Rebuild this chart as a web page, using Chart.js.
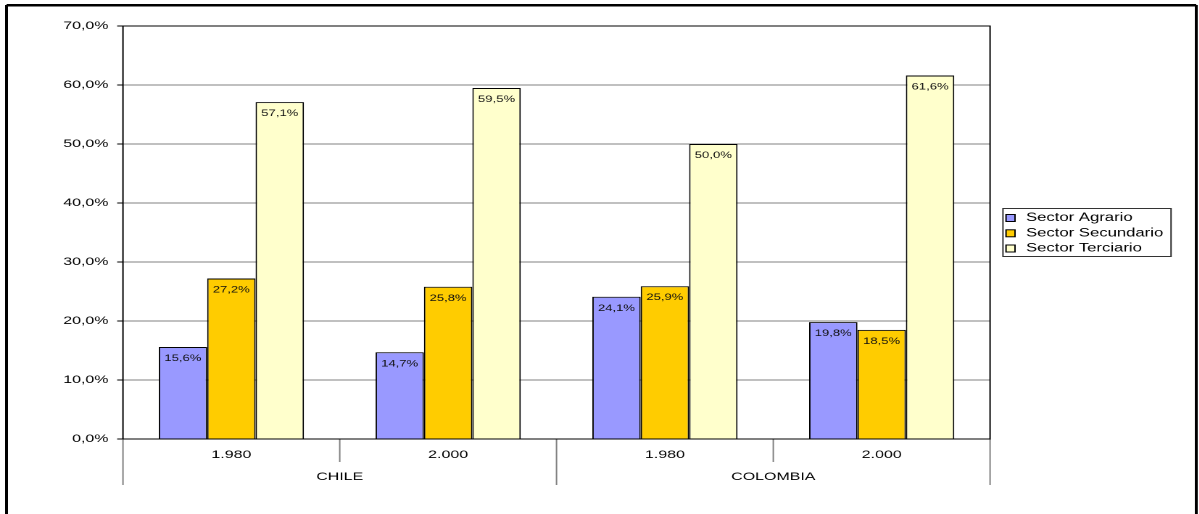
<!DOCTYPE html>
<html lang="es">
<head>
<meta charset="utf-8">
<title>Sectores económicos - Chile y Colombia</title>
<script src="https://cdn.jsdelivr.net/npm/chart.js@4"></script>
<style>
  html, body { margin: 0; padding: 0; background: #fff; overflow: hidden; }
  /* el original está estirado en horizontal, por eso el scaleX */
  #contenedor {
    width: 827px;
    height: 514px;
    transform: scaleX(1.45);
    transform-origin: 0 0;
  }
</style>
</head>
<body>
<div id="contenedor"><canvas id="grafico"></canvas></div>
<script>
// --- Datos ---
const anos = ['1.980', '2.000', '1.980', '2.000'];
const paises = ['CHILE', 'COLOMBIA'];
const sectorAgrario = [15.6, 14.7, 24.1, 19.8];
const sectorSecundario = [27.2, 25.8, 25.9, 18.5];
const sectorTerciario = [57.1, 59.5, 50.0, 61.6];
const marcasEje = [0, 10, 20, 30, 40, 50, 60, 70];

const FUENTE = '"Liberation Sans", Arial, sans-serif';

function formatoPct(v) {
    return Number(v).toFixed(1).replace('.', ',') + '%';
}

// --- Plugin: etiquetas, separadores, marcos y leyenda ---
const extras = {
    id: 'extras',
    afterDatasetsDraw(chart) {
        const ctx = chart.ctx;
        ctx.save();
        ctx.font = '9px ' + FUENTE;
        ctx.fillStyle = '#111';
        ctx.textAlign = 'center';
        ctx.textBaseline = 'middle';
        chart.data.datasets.forEach((ds, i) => {
            chart.getDatasetMeta(i).data.forEach((barra, j) => {
                ctx.fillText(formatoPct(ds.data[j]), barra.x, barra.y + 11.5);
            });
        });
        ctx.restore();
    },
    afterDraw(chart) {
        const ctx = chart.ctx;
        const area = chart.chartArea;
        const ancho = (area.right - area.left) / anos.length;
        const porPais = anos.length / paises.length;

        ctx.save();

        // separadores bajo el eje
        ctx.strokeStyle = '#808080';
        ctx.lineWidth = 1;
        for (let k = 0; k <= anos.length; k++) {
            const x = area.left + k * ancho;
            const fin = (k % porPais === 0) ? 485 : 462;
            ctx.beginPath();
            ctx.moveTo(x, area.bottom);
            ctx.lineTo(x, fin);
            ctx.stroke();
        }

        // nombres de país
        ctx.fillStyle = '#000';
        ctx.font = '11px ' + FUENTE;
        ctx.textAlign = 'center';
        ctx.textBaseline = 'middle';
        paises.forEach((p, i) => {
            const x = area.left + (i + 0.5) * porPais * ancho;
            ctx.fillText(p, x, 477);
        });

        // marco del área de trazado
        ctx.strokeStyle = '#000';
        ctx.lineWidth = 1;
        ctx.strokeRect(area.left, area.top, area.right - area.left, area.bottom - area.top);

        // marco exterior
        ctx.lineWidth = 2.5;
        ctx.beginPath();
        ctx.moveTo(4.5, 5.3);
        ctx.lineTo(825, 5.3);
        ctx.stroke();
        ctx.lineWidth = 2;
        ctx.beginPath();
        ctx.moveTo(4.5, 5);
        ctx.lineTo(4.5, 520);
        ctx.moveTo(825, 5);
        ctx.lineTo(825, 520);
        ctx.stroke();

        // leyenda
        ctx.lineWidth = 1;
        ctx.strokeStyle = '#333';
        ctx.strokeRect(691.7, 208.5, 115.9, 48);
        ctx.font = '11.5px ' + FUENTE;
        ctx.textAlign = 'left';
        const filas = [218, 233.3, 248.5];
        chart.data.datasets.forEach((ds, i) => {
            const y = filas[i];
            ctx.fillStyle = ds.backgroundColor;
            ctx.fillRect(693.8, y - 3.5, 6.2, 7);
            ctx.strokeStyle = '#000';
            ctx.strokeRect(693.8, y - 3.5, 6.2, 7);
            ctx.fillStyle = '#000';
            ctx.fillText(ds.label, 707.6, y);
        });

        ctx.restore();
    }
};

// --- Gráfico ---
const ctx = document.getElementById('grafico');
const grafico = new Chart(ctx, {
    type: 'bar',
    data: {
        labels: anos,
        datasets: [
            { label: 'Sector Agrario', data: sectorAgrario, backgroundColor: '#9999FF', borderColor: '#000', borderWidth: 1 },
            { label: 'Sector Secundario', data: sectorSecundario, backgroundColor: '#FFCC00', borderColor: '#000', borderWidth: 1 },
            { label: 'Sector Terciario', data: sectorTerciario, backgroundColor: '#FFFFCC', borderColor: '#000', borderWidth: 1 }
        ]
    },
    options: {
        responsive: true,
        maintainAspectRatio: false,
        devicePixelRatio: 2,
        animation: false,
        categoryPercentage: 0.67,
        barPercentage: 1.0,
        layout: {
            padding: { left: 0, top: 26, right: 144.2, bottom: 0 }
        },
        plugins: {
            legend: { display: false },
            tooltip: { enabled: false }
        },
        scales: {
            x: {
                grid: { display: false, drawTicks: false },
                border: { display: false },
                ticks: {
                    color: '#000',
                    font: { family: FUENTE, size: 11 },
                    padding: 9.4,
                    maxRotation: 0,
                    autoSkip: false
                },
                afterFit: (s) => { s.height = 75; }
            },
            y: {
                min: marcasEje[0],
                max: marcasEje[marcasEje.length - 1],
                ticks: {
                    stepSize: marcasEje[1] - marcasEje[0],
                    color: '#000',
                    font: { family: FUENTE, size: 11 },
                    padding: 6,
                    callback: (v) => formatoPct(v)
                },
                grid: { color: '#808080', tickColor: '#000', tickLength: 4 },
                border: { display: false },
                afterFit: (s) => { s.width = 84.8; }
            }
        }
    },
    plugins: [extras]
});
</script>
</body>
</html>
